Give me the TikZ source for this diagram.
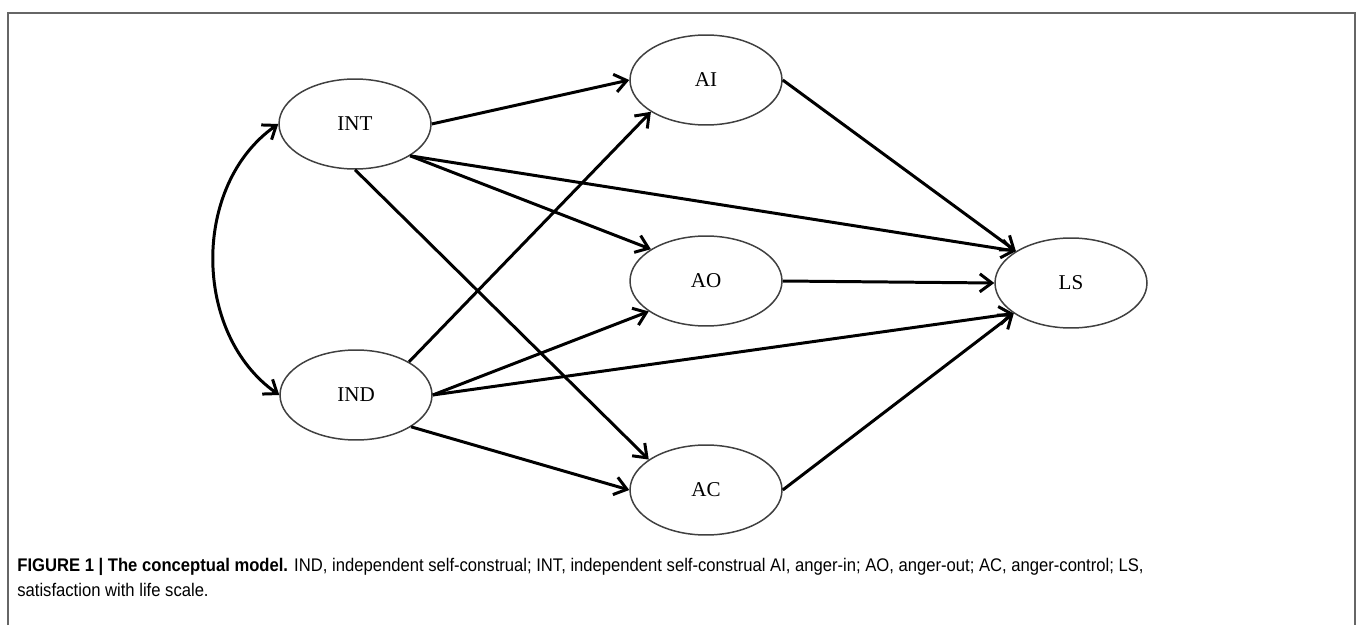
\documentclass[tikz,border=0pt]{standalone}
\usepackage{fontspec}
\setmainfont{Liberation Serif}
\newfontfamily\capfont[FakeStretch=0.91]{Liberation Sans}
\usetikzlibrary{arrows.meta,shapes.geometric}

\begin{document}
\begin{tikzpicture}[x=0.02cm,y=-0.02cm,>={Straight Barb[length=2.4mm,width=3.6mm]},
  var/.style={ellipse,draw=black!75,line width=0.85pt,minimum width=3.04cm,minimum height=1.8cm,inner sep=0pt,font=\fontsize{12}{14}\selectfont},
  effect/.style={->,line width=1.7pt},
  captext/.style={anchor=base west,inner sep=0pt,font=\capfont\fontsize{10.4}{12}\selectfont}]
\useasboundingbox (0,0) rectangle (1358,625);
% frame
\draw[black!60,line width=0.9pt] (8,625) -- (8,13) -- (1355,13) -- (1355,625);
% self-construals
\node[var] (INT) at (355,124) {INT};
\node[var] (IND) at (356,395) {IND};
% anger
\node[var] (AI) at (706,80) {AI};
\node[var] (AO) at (706,281) {AO};
\node[var] (AC) at (706,490) {AC};
% life satisfaction
\node[var] (LS) at (1071,283) {LS};
% paths
\draw[<->,line width=1.7pt] (INT.west) to[out=215,in=145] (IND.west);
\draw[effect] (INT.east) -- (AI.west);
\draw[effect] (INT.-30) -- (LS.150);
\draw[effect] (INT.-30) -- (AO.150);
\draw[effect] (INT.south) -- (AC.152);
\draw[effect] (IND.32) -- (AI.210);
\draw[effect] (IND.east) -- (AO.208);
\draw[effect] (IND.east) -- (LS.208);
\draw[effect] (IND.-30) -- (AC.west);
\draw[effect] (AI.east) -- (LS.150);
\draw[effect] (AO.east) -- (LS.west);
\draw[effect] (AC.east) -- (LS.208);
% caption
\node[captext] (cap1) at (17,571) {\textbf{FIGURE 1 | The conceptual model.} IND, independent self-construal; INT, independent self-construal AI, anger-in; AO, anger-out; AC, anger-control; LS,};
\node[captext] (cap2) at (17,596) {satisfaction with life scale.};
\end{tikzpicture}
\end{document}
